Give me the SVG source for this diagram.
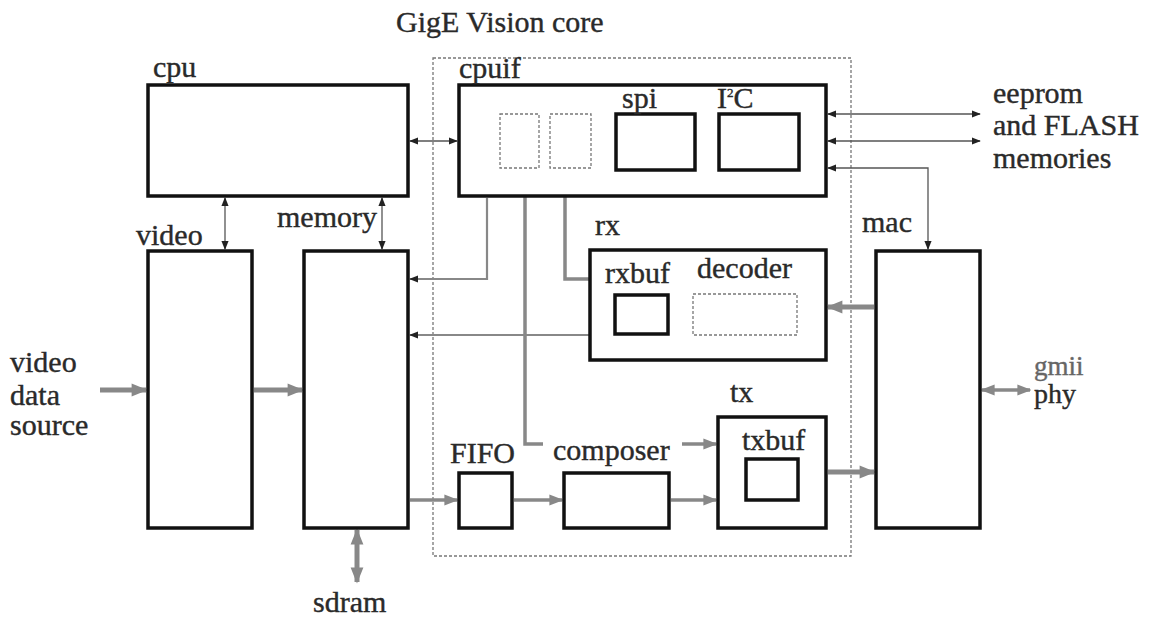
<svg xmlns="http://www.w3.org/2000/svg" width="1150" height="617" viewBox="0 0 1150 617">
<style>
text{font-family:"Liberation Serif","Times New Roman",serif;font-size:30px;fill:#2a2a2a;stroke:#2a2a2a;stroke-width:0.4}
.box{fill:#fff;stroke:#111;stroke-width:3.5}
.dash{fill:none;stroke:#777;stroke-width:1.3;stroke-dasharray:3 2}
.thin{fill:none;stroke:#555;stroke-width:1.3}
.g2{fill:none;stroke:#888;stroke-width:2.2}
.g3{fill:none;stroke:#888;stroke-width:3.5}
.fat{fill:none;stroke:#888;stroke-width:5}
</style>
<defs>
<marker id="ak" viewBox="0 0 10 10" refX="9" refY="5" markerWidth="9" markerHeight="9" markerUnits="userSpaceOnUse" orient="auto-start-reverse"><path d="M0,1 L10,5 L0,9 z" fill="#222"/></marker>
<marker id="ag" viewBox="0 0 10 10" refX="9" refY="5" markerWidth="14" markerHeight="14" markerUnits="userSpaceOnUse" orient="auto-start-reverse"><path d="M0,1 L10,5 L0,9 z" fill="#888"/></marker>
<marker id="agb" viewBox="0 0 10 10" refX="9" refY="5" markerWidth="18" markerHeight="16" markerUnits="userSpaceOnUse" orient="auto-start-reverse"><path d="M0,1 L10,5 L0,9 z" fill="#888"/></marker>
</defs>
<text x="396" y="32">GigE Vision core</text>
<rect class="dash" x="433" y="58" width="418" height="498"/>
<g id="connectors">
<line class="thin" x1="410" y1="141" x2="457" y2="141" marker-start="url(#ak)" marker-end="url(#ak)"/>
<line class="thin" x1="828" y1="114" x2="980" y2="114" marker-start="url(#ak)" marker-end="url(#ak)"/>
<line class="thin" x1="828" y1="141" x2="980" y2="141" marker-start="url(#ak)" marker-end="url(#ak)"/>
<polyline class="thin" points="828,168 928,168 928,249" marker-start="url(#ak)" marker-end="url(#ak)"/>
<line class="thin" x1="225" y1="198" x2="225" y2="249" marker-start="url(#ak)" marker-end="url(#ak)"/>
<line class="thin" x1="382" y1="198" x2="382" y2="249" marker-start="url(#ak)" marker-end="url(#ak)"/>
<polyline class="g2" points="487,198 487,279 410,279" marker-end="url(#ak)"/>
<polyline class="g2" points="590,335 410,335" marker-end="url(#ak)"/>
<polyline class="g3" points="590,279 565,279 565,170" marker-end="url(#ag)"/>
<polyline class="g3" points="525,168 525,444 543,444"/>
<line class="g3" x1="682" y1="444" x2="716" y2="444" marker-end="url(#ag)"/>
<line class="fat" x1="100" y1="390" x2="146" y2="390" marker-end="url(#agb)"/>
<line class="fat" x1="254" y1="390" x2="302" y2="390" marker-end="url(#agb)"/>
<line class="g3" x1="410" y1="500" x2="457" y2="500" marker-end="url(#ag)"/>
<line class="g3" x1="514" y1="500" x2="562" y2="500" marker-end="url(#ag)"/>
<line class="g3" x1="671" y1="500" x2="716" y2="500" marker-end="url(#ag)"/>
<line class="fat" x1="828" y1="472" x2="874" y2="472" marker-end="url(#agb)"/>
<line class="fat" x1="874" y1="307" x2="828" y2="307" marker-end="url(#agb)"/>
<line class="g3" x1="982" y1="390" x2="1030" y2="390" marker-start="url(#ag)" marker-end="url(#ag)"/>
<line class="fat" x1="357" y1="530" x2="357" y2="582" marker-start="url(#agb)" marker-end="url(#agb)"/>
</g>
<g id="cpu"><rect class="box" x="148" y="85" width="260" height="111"/><text x="153" y="77">cpu</text></g>
<g id="cpuif"><rect class="box" x="459" y="85" width="367" height="111"/><text x="459" y="78">cpuif</text>
<rect class="dash" x="500" y="114" width="39" height="54"/>
<rect class="dash" x="550" y="114" width="41" height="54"/></g>
<g id="spi"><rect class="box" x="616" y="114" width="79" height="56"/><text x="622" y="108">spi</text></g>
<g id="i2c"><rect class="box" x="719" y="114" width="80" height="56"/><text x="717" y="108">I<tspan style="font-size:13px" dy="-11">2</tspan><tspan dy="11">C</tspan></text></g>
<g id="eeprom"><text x="993" y="103">eeprom</text><text x="993" y="135">and FLASH</text><text x="993" y="168">memories</text></g>
<g id="video"><rect class="box" x="148" y="251" width="104" height="277"/><text x="136" y="245">video</text></g>
<g id="memory"><rect class="box" x="304" y="251" width="104" height="277"/><text x="277" y="227">memory</text></g>
<g id="rx"><rect class="box" x="590" y="250" width="236" height="110"/><text x="595" y="235">rx</text>
<text x="605" y="283">rxbuf</text><text x="697" y="278">decoder</text>
<rect class="box" x="615" y="295" width="53" height="39"/>
<rect class="dash" x="693" y="294" width="104" height="41"/></g>
<g id="mac"><rect class="box" x="876" y="251" width="104" height="277"/><text x="862" y="232">mac</text></g>
<g id="tx"><rect class="box" x="718" y="417" width="108" height="111"/><text x="730" y="402">tx</text>
<text x="742" y="450">txbuf</text><rect class="box" x="746" y="459" width="52" height="41"/></g>
<g id="fifo"><rect class="box" x="459" y="473" width="53" height="55"/><text x="450" y="463">FIFO</text></g>
<g id="composer"><rect class="box" x="564" y="473" width="105" height="55"/><text x="553" y="460">composer</text></g>
<g id="source"><text x="10" y="372">video</text><text x="10" y="405">data</text><text x="10" y="435">source</text></g>
<g id="phy"><text x="1034" y="375" style="font-size:27px;fill:#666;stroke:#666">gmii</text><text x="1034" y="403" style="font-size:28px">phy</text></g>
<g id="sdram"><text x="313" y="612">sdram</text></g>
</svg>
